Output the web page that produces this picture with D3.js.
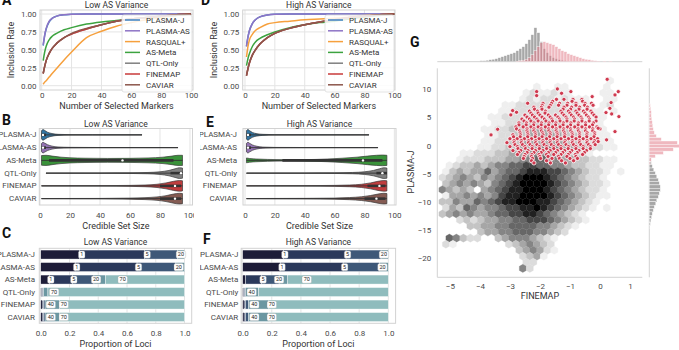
<!DOCTYPE html>
<html>
<head>
<meta charset="utf-8">
<script src="https://cdn.jsdelivr.net/npm/d3@7"></script>
<style>
  body { margin: 0; background: #fff; }
  svg { display: block; font-family: Roboto, "DejaVu Sans", sans-serif; }
</style>
</head>
<body>
<svg id="fig" width="679" height="350"></svg>
<script>
// ---------- data ----------
const methods = ["PLASMA-J", "PLASMA-AS", "RASQUAL+", "AS-Meta", "QTL-Only", "FINEMAP", "CAVIAR"];
const lineColors = ["#3d80c0", "#8e74c6", "#f6a03d", "#3ca33f", "#7f7f7f", "#c93a3a", "#8c564b"];
const markerCounts = [1, 2, 3, 5, 7, 10, 15, 20, 30, 40, 50, 60, 70, 80, 90, 100];
const markerTicks = [0, 20, 40, 60, 80, 100];
const rateTicks = [0, 0.25, 0.5, 0.75, 1];

// inclusion rate, one row per method (same order as methods)
const lowInclusion = [
  [0.56, 0.70, 0.79, 0.89, 0.94, 0.97, 0.99, 0.995, 1, 1, 1, 1, 1, 1, 1, 1],
  [0.57, 0.71, 0.80, 0.90, 0.94, 0.97, 0.99, 0.996, 1, 1, 1, 1, 1, 1, 1, 1],
  [0.02, 0.05, 0.07, 0.12, 0.17, 0.24, 0.36, 0.47, 0.67, 0.76, 0.83, 0.88, 0.92, 0.95, 0.98, 1],
  [0.35, 0.47, 0.55, 0.64, 0.69, 0.73, 0.78, 0.81, 0.86, 0.89, 0.91, 0.93, 0.95, 0.97, 0.98, 1],
  [0.17, 0.27, 0.35, 0.45, 0.52, 0.59, 0.67, 0.72, 0.79, 0.85, 0.90, 0.93, 0.95, 0.97, 0.99, 1],
  [0.17, 0.27, 0.35, 0.45, 0.52, 0.59, 0.67, 0.72, 0.79, 0.85, 0.90, 0.93, 0.95, 0.97, 0.99, 1],
  [0.17, 0.27, 0.35, 0.45, 0.52, 0.59, 0.67, 0.73, 0.80, 0.85, 0.90, 0.93, 0.95, 0.97, 0.99, 1]
];
const highInclusion = [
  [0.55, 0.68, 0.77, 0.87, 0.92, 0.96, 0.985, 0.995, 1, 1, 1, 1, 1, 1, 1, 1],
  [0.55, 0.68, 0.77, 0.87, 0.92, 0.96, 0.985, 0.995, 1, 1, 1, 1, 1, 1, 1, 1],
  [0.40, 0.55, 0.64, 0.72, 0.77, 0.81, 0.86, 0.88, 0.90, 0.92, 0.93, 0.94, 0.96, 0.98, 0.99, 1],
  [0.28, 0.38, 0.45, 0.55, 0.61, 0.66, 0.71, 0.75, 0.81, 0.85, 0.88, 0.90, 0.93, 0.96, 0.98, 1],
  [0.14, 0.24, 0.32, 0.43, 0.50, 0.58, 0.67, 0.73, 0.80, 0.85, 0.89, 0.92, 0.95, 0.97, 0.99, 1],
  [0.14, 0.24, 0.32, 0.43, 0.50, 0.58, 0.67, 0.73, 0.80, 0.85, 0.89, 0.92, 0.95, 0.97, 0.99, 1],
  [0.14, 0.24, 0.32, 0.43, 0.50, 0.58, 0.67, 0.73, 0.80, 0.85, 0.89, 0.92, 0.95, 0.97, 0.99, 1]
];

// violins / bars
const rowMethods = ["PLASMA-J", "PLASMA-AS", "AS-Meta", "QTL-Only", "FINEMAP", "CAVIAR"];
const violinColors = ["#3274a1", "#9372b2", "#3a923a", "#7f7f7f", "#c03d3e", "#845b53"];
const csTicks = [0, 20, 40, 60, 80, 100];

// [credible set size, relative half width]
const lowViolinDensity = [
  [[1, 0.75], [2, 1], [3, 0.85], [5, 0.5], [8, 0.25], [12, 0.1], [20, 0.04], [35, 0.02], [68, 0.01]],
  [[1, 0.75], [2, 1], [3, 0.85], [5, 0.55], [8, 0.28], [12, 0.12], [20, 0.05], [40, 0.02], [92, 0.01]],
  [[1, 0.9], [4, 0.95], [8, 0.8], [14, 0.6], [20, 0.48], [30, 0.4], [45, 0.36], [60, 0.38], [72, 0.45], [82, 0.6], [88, 0.8], [92, 0.95], [95, 0.95]],
  [[4, 0.02], [40, 0.03], [60, 0.06], [72, 0.12], [80, 0.25], [86, 0.5], [90, 0.8], [93, 1], [95, 0.95]],
  [[1, 0.02], [40, 0.04], [60, 0.09], [70, 0.16], [78, 0.3], [84, 0.55], [89, 0.85], [93, 1], [95, 0.95]],
  [[1, 0.02], [40, 0.04], [60, 0.1], [70, 0.18], [78, 0.32], [84, 0.55], [89, 0.85], [93, 1], [95, 0.95]]
];
// [whisker low, q1, median, q3, whisker high]
const lowViolinBox = [
  [1, 1, 2, 4, 68], [1, 1, 2, 4, 92], [1, 6, 55, 89, 95],
  [4, 87, 94, 95, 95], [1, 80, 90, 94, 95], [1, 80, 90, 94, 95]
];
const highViolinDensity = [
  [[1, 0.8], [2, 1], [3, 0.8], [5, 0.45], [8, 0.22], [12, 0.1], [20, 0.04], [40, 0.02], [83, 0.01]],
  [[1, 0.8], [2, 1], [3, 0.82], [5, 0.5], [8, 0.25], [12, 0.1], [20, 0.04], [40, 0.02], [89, 0.01]],
  [[1, 0.45], [3, 0.35], [8, 0.25], [15, 0.18], [25, 0.13], [40, 0.14], [55, 0.25], [65, 0.4], [75, 0.6], [82, 0.8], [88, 0.95], [92, 1], [95, 0.95]],
  [[1, 0.02], [40, 0.03], [60, 0.06], [72, 0.12], [80, 0.25], [86, 0.5], [90, 0.8], [93, 1], [95, 0.95]],
  [[1, 0.02], [40, 0.04], [60, 0.09], [70, 0.16], [78, 0.3], [84, 0.55], [89, 0.85], [93, 1], [95, 0.95]],
  [[1, 0.02], [40, 0.05], [60, 0.1], [70, 0.2], [78, 0.35], [84, 0.58], [89, 0.85], [93, 1], [95, 0.95]]
];
const highViolinBox = [
  [1, 1, 2, 4, 83], [1, 1, 2, 4, 89], [1, 25, 79, 92, 95],
  [1, 88, 92, 95, 95], [1, 82, 90, 94, 95], [1, 80, 88, 94, 95]
];

// stacked proportions: cumulative ends of the 5 colour classes
const barColors = ["#1d1c38", "#2b395b", "#3e5878", "#6b97a2", "#8fbcbd"];
const propTicks = [0, 0.2, 0.4, 0.6, 0.8, 1];
const lowBarEnds = [
  [0.27, 0.72, 0.95, 1, 1],
  [0.24, 0.67, 0.94, 1, 1],
  [0.06, 0.22, 0.37, 0.45, 1],
  [0.006, 0.012, 0.02, 0.05, 1],
  [0.01, 0.02, 0.03, 0.13, 1],
  [0.01, 0.02, 0.03, 0.13, 1]
];
const lowBarLabels = [
  [[0.285, "1"], [0.74, "5"], [0.975, "20"]],
  [[0.25, "1"], [0.68, "5"], [0.96, "20"]],
  [[0.07, "1"], [0.23, "5"], [0.385, "20"], [0.57, "70"]],
  [[0.093, "70"]],
  [[0.07, "40"], [0.16, "70"]],
  [[0.07, "40"], [0.16, "70"]]
];
const highBarEnds = [
  [0.28, 0.71, 0.95, 1, 1],
  [0.26, 0.69, 0.94, 1, 1],
  [0.02, 0.13, 0.25, 0.31, 1],
  [0.006, 0.012, 0.02, 0.11, 1],
  [0.01, 0.02, 0.04, 0.18, 1],
  [0.01, 0.02, 0.04, 0.18, 1]
];
const highBarLabels = [
  [[0.29, "1"], [0.72, "5"], [0.97, "20"]],
  [[0.27, "1"], [0.70, "5"], [0.96, "20"]],
  [[0.14, "5"], [0.25, "20"], [0.44, "70"]],
  [[0.062, "40"]],
  [[0.08, "40"], [0.2, "70"]],
  [[0.08, "40"], [0.2, "70"]]
];

// panel G: hexbin density (gray level per cell, '.' empty), rows top to bottom
const hexX0 = -5.25, hexDX = 0.233, hexY0 = 11.5, hexDY = 1.075;
const hexRows = [
  "........................1.",
  ".............1..11.....1..",
  "............1211211....11.",
  "...........1212212111..11.",
  ".........1122222221211.12.",
  "........112222222222111.1.",
  ".......11222232222221111..",
  ".......1122333333222111...",
  "......112233344433322111..",
  "......112233444443332211..",
  "......1122334444443322111.",
  ".....11223344455544332211.",
  "...1122233444554433221....",
  "..12223334455665544332211.",
  ".123343455667766554332211.",
  "134344645667888776543221.1",
  "234543545678999876543221..",
  "345454356789999876543221..",
  "54343.456788999876543221..",
  "144545457889999876543211..",
  "33544656788999887654321...",
  "2436545567788987654321.1..",
  "345454456677887654321",
  "..2323445566777654321",
  "....3344556666554321",
  ".....3445566655432",
  ".65322..345554321",
  "21.......2345432",
  "...........345421",
  "...........2341",
  "............22",
  "...........52"
];
// red points: [PLASMA-J value, FINEMAP values in that row]
const redCloudRows = [
  [8.2, [-1.45, -1.2, -0.9, -0.6]],
  [7.85, [-1.58, -0.93, -0.58]],
  [7.5, [-1.9, -1.62, -1.35, -1.08, -0.8, -0.5, -0.28]],
  [7.15, [-1.93, -1.66, -1.38, -1.1, -0.8, -0.51, -0.23]],
  [6.8, [-2.2, -1.95, -1.7, -1.2, -0.95, -0.68, -0.42]],
  [6.45, [-2.18, -1.93, -1.23, -0.98, -0.7, -0.43]],
  [6.1, [-2.35, -2.08, -1.82, -1.3, -1.05, -0.8, -0.55, -0.3]],
  [5.75, [-2.3, -2.06, -1.83, -1.26, -1.0, -0.76, -0.5, -0.26]],
  [5.4, [-2.5, -2.25, -2.0, -1.72, -1.48, -1.2, -0.95, -0.7, -0.45, -0.2]],
  [5.05, [-2.43, -2.18, -1.93, -1.66, -1.4, -1.13, -0.88, -0.63, -0.38, -0.13]],
  [4.7, [-2.6, -2.35, -2.1, -1.85, -1.6, -1.35, -1.1, -0.85, -0.6, -0.35]],
  [4.35, [-2.53, -2.3, -2.06, -1.8, -1.58, -1.33, -1.1, -0.86, -0.6, -0.36, -0.13]],
  [4.0, [-2.7, -2.45, -2.2, -1.95, -1.7, -1.47, -1.22, -0.97, -0.72, -0.48, -0.22]],
  [3.65, [-2.7, -2.46, -2.21, -1.96, -1.71, -1.48, -1.23, -0.98, -0.73, -0.48, -0.25]],
  [3.3, [-2.8, -2.56, -2.3, -2.06, -1.82, -1.58, -1.33, -1.08, -0.84, -0.6, -0.35, -0.1]],
  [2.95, [-2.78, -2.43, -2.2, -1.96, -1.71, -1.46, -1.21, -0.98, -0.73, -0.48, -0.24, 0.0]],
  [2.6, [-2.68, -2.43, -2.2, -1.95, -1.7, -1.46, -1.21, -0.97, -0.72, -0.48, -0.24]],
  [2.25, [-2.66, -2.41, -2.16, -1.91, -1.66, -1.43, -1.18, -0.93, -0.68, -0.43, -0.18]],
  [1.9, [-2.9, -2.65, -2.4, -2.15, -1.9, -1.66, -1.42, -1.17, -0.92, -0.68, -0.44, -0.18]],
  [1.55, [-2.88, -2.66, -2.41, -2.16, -1.93, -1.68, -1.43, -1.18, -0.93, -0.68, -0.44, -0.2]],
  [1.2, [-3.0, -2.76, -2.52, -2.28, -2.03, -1.78, -1.54, -1.3, -1.05, -0.8, -0.56, -0.3, -0.08]],
  [0.85, [-2.86, -2.62, -2.38, -2.14, -1.9, -1.66, -1.42, -1.16, -0.92, -0.68, -0.43, -0.18]],
  [0.5, [-3.1, -2.86, -2.62, -2.38, -2.14, -1.9, -1.66, -1.42, -1.17, -0.92, -0.68, -0.43, -0.2]],
  [0.15, [-2.83, -2.58, -2.33, -2.1, -1.86, -1.62, -1.38, -1.13, -0.88, -0.64, -0.38, -0.16]],
  [-0.2, [-3.0, -2.75, -2.5, -2.26, -2.02, -1.78, -1.54, -1.3, -1.05, -0.8, -0.56, -0.32]],
  [-0.55, [-2.73, -2.48, -2.26, -2.02, -1.78, -1.54, -1.3, -1.06, -0.8, -0.56, -0.32]],
  [-0.9, [-2.9, -2.64, -2.4, -2.15, -1.9, -1.66, -1.42, -1.18, -0.94, -0.7, -0.45]],
  [-1.25, [-2.7, -2.43, -2.2, -1.96, -1.72, -1.48, -1.24, -1.0, -0.76, -0.52]],
  [-1.6, [-2.75, -2.5, -2.27, -2.03, -1.78, -1.54, -1.3, -1.06, -0.82, -0.58]],
  [-1.95, [-2.53, -2.28, -2.0, -1.73, -1.38, -1.1, -0.8]],
  [-2.3, [-2.55, -2.25, -1.98, -1.6, -1.35, -1.0, -0.75]],
  [-2.7, [-2.28, -1.78, -1.28, -0.88]],
  [-3.1, [-2.2, -1.65, -1.15]]
];
const redOutliers = [
  [0.24, 11.76], [-1.42, 10.04], [-0.97, 9.57], [-2.11, 9.57], [-2.11, 8.86], [-1.28, 9.27],
  [-0.26, 8.68], [0.5, 8.98], [0.61, 9.57], [0.37, 7.62], [-2.41, 7.5], [-2.91, 6.2],
  [-2.78, 5.9], [-2.97, 5.43], [0.2, 5.84], [0.33, 6.6], [0.39, 5.6], [0.63, 5.13],
  [0.5, 2.47], [0.22, 1.0], [-0.06, 3.06], [-3.41, 2.88], [-3.63, 1.88], [-0.06, 0.7]
];
// marginal histograms: [bin centre, height]
const topGrayBins = [
  [-3.95, 1], [-3.85, 1], [-3.75, 1.5], [-3.65, 2], [-3.55, 2.5], [-3.45, 3], [-3.35, 4], [-3.25, 5],
  [-3.15, 6], [-3.05, 7], [-2.95, 8], [-2.85, 9], [-2.75, 11], [-2.65, 13], [-2.55, 15], [-2.45, 18],
  [-2.35, 22], [-2.25, 27], [-2.15, 34], [-2.05, 29], [-1.95, 20], [-1.85, 13], [-1.75, 9], [-1.65, 6],
  [-1.55, 4], [-1.45, 3], [-1.35, 2], [-1.25, 1.5], [-1.15, 1], [-1.05, 0.5]
];
const topPinkBins = [
  [-2.75, 0.5], [-2.65, 1], [-2.55, 1.5], [-2.45, 2.5], [-2.35, 4], [-2.25, 7], [-2.15, 11], [-2.05, 15],
  [-1.95, 19], [-1.85, 20], [-1.75, 19], [-1.65, 18], [-1.55, 17], [-1.45, 15], [-1.35, 13], [-1.25, 11],
  [-1.15, 10], [-1.05, 8], [-0.95, 7], [-0.85, 6], [-0.75, 5], [-0.65, 4], [-0.55, 3], [-0.45, 2.5],
  [-0.35, 2], [-0.25, 1.5], [-0.15, 1], [-0.05, 0.5], [0.15, 0.5], [0.35, 0.5]
];
const rightPinkBins = [
  [7.1, 1], [6.5, 1.5], [5.9, 2], [5.3, 2], [4.7, 2.5], [4.1, 3], [3.5, 3.5], [2.9, 4], [2.3, 5],
  [1.7, 7], [1.1, 12], [0.5, 28], [-0.1, 34], [-0.7, 24], [-1.3, 14], [-1.9, 6], [-2.5, 2], [-3.1, 1]
];
const rightGrayBins = [
  [-2.5, 1], [-3.1, 2], [-3.7, 3], [-4.3, 4.5], [-4.9, 6], [-5.5, 7.5], [-6.1, 9], [-6.7, 10],
  [-7.3, 11], [-7.9, 11], [-8.5, 10], [-9.1, 9], [-9.7, 7.5], [-10.3, 6.5], [-10.9, 5], [-11.5, 4],
  [-12.1, 3], [-12.7, 2.3], [-13.3, 1.6], [-13.9, 1], [-14.5, 0.6]
];
const gTicksX = [-5, -4, -3, -2, -1, 0, 1];
const gTicksY = [-20, -15, -10, -5, 0, 5, 10];

// ---------- drawing ----------
const svg = d3.select("#fig");
svg.append("rect").attr("width", 679).attr("height", 350).attr("fill", "#fff");
const gridColor = "#e4e4e4", frameColor = "#d2d2d2", tickColor = "#4a4a4a";
const minus = s => String(s).replace("-", "\u2212");

function letter(t, x, y) {
  svg.append("text").attr("x", x).attr("y", y).attr("font-size", 14)
    .attr("font-weight", "bold").attr("fill", "#111").text(t);
}
function styleAxis(sel, size) {
  sel.select(".domain").remove();
  sel.selectAll("text").attr("font-size", size || 8).attr("fill", tickColor)
    .attr("font-family", "Roboto, sans-serif");
}
function addText(g, t, x, y, size, opts) {
  const el = g.append("text").attr("x", x).attr("y", y).attr("font-size", size)
    .attr("fill", "#333").attr("text-anchor", "middle").text(t);
  if (opts && opts.rotate) el.attr("transform", `rotate(-90,${x},${y})`);
  return el;
}
function clipGroup(id, x0, x1) {
  svg.append("clipPath").attr("id", id).append("rect")
    .attr("x", x0).attr("y", 0).attr("width", x1 - x0).attr("height", 350);
  return svg.append("g").attr("clip-path", `url(#${id})`);
}

function inclusionPanel(g, p) {
  const x = d3.scaleLinear().domain(p.xdom).range([p.left, p.right]);
  const y = d3.scaleLinear().domain([-0.06, 1.056]).range([p.bottom, p.top]);
  g.selectAll(null).data(markerTicks).join("line")
    .attr("x1", d => x(d)).attr("x2", d => x(d)).attr("y1", p.top).attr("y2", p.bottom)
    .attr("stroke", gridColor);
  g.selectAll(null).data(rateTicks).join("line")
    .attr("x1", p.left).attr("x2", p.right).attr("y1", d => y(d)).attr("y2", d => y(d))
    .attr("stroke", gridColor);
  g.append("rect").attr("x", p.left).attr("y", p.top).attr("width", p.right - p.left)
    .attr("height", p.bottom - p.top).attr("fill", "none").attr("stroke", frameColor);

  const line = d3.line().x((d, i) => x(markerCounts[i])).y(d => y(d)).curve(d3.curveMonotoneX);
  g.selectAll(null).data(p.values).join("path")
    .attr("d", line).attr("fill", "none").attr("stroke-width", 1.5)
    .attr("stroke", (d, i) => lineColors[i]);

  g.append("g").attr("transform", `translate(0,${p.bottom})`)
    .call(d3.axisBottom(x).tickValues(markerTicks).tickSize(0).tickPadding(2.5))
    .call(styleAxis);
  g.append("g").attr("transform", `translate(${p.left},0)`)
    .call(d3.axisLeft(y).tickValues(rateTicks).tickFormat(d3.format(".2f")).tickSize(0).tickPadding(3.5))
    .call(styleAxis);

  addText(g, p.title, (p.left + p.right) / 2, 8, 8.5);
  addText(g, "Number of Selected Markers", (p.left + p.right) / 2, 109, 9);
  addText(g, "Inclusion Rate", p.ylabX, 50, 9, { rotate: true });

  // legend
  const lg = g.append("g");
  lg.append("rect").attr("x", p.legendX).attr("y", 15).attr("width", p.right - 1 - p.legendX)
    .attr("height", 77).attr("rx", 2).attr("fill", "#fff").attr("fill-opacity", 0.85)
    .attr("stroke", "#dcdcdc").attr("stroke-width", 0.8);
  const row = lg.selectAll(null).data(methods).join("g")
    .attr("transform", (d, i) => `translate(${p.legendX},${20 + i * 10.8})`);
  row.append("line").attr("x1", 3).attr("x2", 18).attr("stroke-width", 1.5)
    .attr("stroke", (d, i) => lineColors[i]);
  row.append("text").attr("x", 24).attr("y", 3).attr("font-size", 8).attr("fill", "#333").text(d => d);
}

function violinPanel(g, p) {
  const x = d3.scaleLinear().domain(p.xdom).range([p.left, p.right]);
  const y = d3.scaleBand().domain(rowMethods).range([p.top, p.bottom]);
  const half = y.bandwidth() * 0.42;
  g.selectAll(null).data(csTicks).join("line")
    .attr("x1", d => x(d)).attr("x2", d => x(d)).attr("y1", p.top).attr("y2", p.bottom)
    .attr("stroke", gridColor);
  g.append("rect").attr("x", p.left).attr("y", p.top).attr("width", p.right - p.left)
    .attr("height", p.bottom - p.top).attr("fill", "none").attr("stroke", frameColor);

  rowMethods.forEach((m, i) => {
    const c = y(m) + y.bandwidth() / 2;
    const area = d3.area().x(d => x(d[0]))
      .y0(d => c - d[1] * half).y1(d => c + d[1] * half).curve(d3.curveMonotoneX);
    g.append("path").attr("d", area(p.density[i])).attr("fill", violinColors[i])
      .attr("stroke", "#3a3a3a").attr("stroke-width", 0.7);
    const b = p.box[i];
    g.append("line").attr("x1", x(b[0])).attr("x2", x(b[4])).attr("y1", c).attr("y2", c)
      .attr("stroke", "#333").attr("stroke-width", 0.9);
    g.append("line").attr("x1", x(b[1])).attr("x2", x(b[3])).attr("y1", c).attr("y2", c)
      .attr("stroke", "#333").attr("stroke-width", 2.6);
    g.append("circle").attr("cx", x(b[2])).attr("cy", c).attr("r", 1.2).attr("fill", "#fff");
  });

  g.append("g").attr("transform", `translate(0,${p.bottom})`)
    .call(d3.axisBottom(x).tickValues(csTicks).tickSize(0).tickPadding(7))
    .call(styleAxis);
  g.selectAll(null).data(rowMethods).join("text")
    .attr("x", p.labelX).attr("y", d => y(d) + y.bandwidth() / 2).attr("dy", "0.32em")
    .attr("text-anchor", "end").attr("font-size", 8).attr("fill", tickColor).text(d => d);

  addText(g, p.title, (p.left + p.right) / 2, 127, 8.5);
  addText(g, "Credible Set Size", (p.left + p.right) / 2, 228.5, 9);
}

function barPanel(g, p) {
  const x = d3.scaleLinear().domain([-0.01, 1.05]).range([p.left, p.right]);
  const y = d3.scaleBand().domain(rowMethods).range([p.top, p.bottom]).paddingInner(0.28).paddingOuter(0.14);
  g.selectAll(null).data(propTicks).join("line")
    .attr("x1", d => x(d)).attr("x2", d => x(d)).attr("y1", p.top).attr("y2", p.bottom)
    .attr("stroke", gridColor);
  g.append("rect").attr("x", p.left).attr("y", p.top).attr("width", p.right - p.left)
    .attr("height", p.bottom - p.top).attr("fill", "none").attr("stroke", frameColor);

  rowMethods.forEach((m, i) => {
    const ends = p.ends[i];
    const segs = ends.map((e, k) => [k === 0 ? 0 : ends[k - 1], e, k]);
    g.selectAll(null).data(segs.filter(s => s[1] > s[0])).join("rect")
      .attr("x", s => x(s[0])).attr("width", s => x(s[1]) - x(s[0]))
      .attr("y", y(m)).attr("height", y.bandwidth())
      .attr("fill", s => barColors[s[2]]).attr("stroke", "#fff").attr("stroke-width", 0.4);
    const c = y(m) + y.bandwidth() / 2;
    p.labels[i].forEach(([pos, t]) => {
      const w = 3.5 + t.length * 3;
      g.append("rect").attr("x", x(pos) - w / 2).attr("y", c - 3.6).attr("width", w).attr("height", 7.2)
        .attr("rx", 1.5).attr("fill", "#fff").attr("stroke", "#9a9a9a").attr("stroke-width", 0.3);
      g.append("text").attr("x", x(pos)).attr("y", c).attr("dy", "0.35em").attr("text-anchor", "middle")
        .attr("font-size", 5.5).attr("fill", "#222").text(t);
    });
  });

  g.append("g").attr("transform", `translate(0,${p.bottom})`)
    .call(d3.axisBottom(x).tickValues(propTicks).tickFormat(d3.format(".1f")).tickSize(0).tickPadding(7.5))
    .call(styleAxis);
  g.selectAll(null).data(rowMethods).join("text")
    .attr("x", p.labelX).attr("y", d => y(d) + y.bandwidth() / 2).attr("dy", "0.32em")
    .attr("text-anchor", "end").attr("font-size", 8).attr("fill", tickColor).text(d => d);

  addText(g, p.title, (p.left + p.right) / 2, 244.5, 8.5);
  addText(g, "Proportion of Loci", (p.left + p.right) / 2, 346.5, 9);
}

// left column
const colA = clipGroup("clipA", 0, 200);
inclusionPanel(colA, { left: 40, right: 193, top: 10, bottom: 90, xdom: [-1.14, 101.3],
  values: lowInclusion, title: "Low AS Variance", ylabX: 14, legendX: 122 });
const colB = clipGroup("clipB", 0, 194);
violinPanel(colB, { left: 39.3, right: 192.5, top: 128.5, bottom: 205, xdom: [-0.47, 101.67],
  density: lowViolinDensity, box: lowViolinBox, title: "Low AS Variance", labelX: 36.5 });
barPanel(colA, { left: 39.3, right: 191.7, top: 248.3, bottom: 323.3,
  ends: lowBarEnds, labels: lowBarLabels, title: "Low AS Variance", labelX: 35 });

// middle column
const colD = clipGroup("clipD", 200, 410);
inclusionPanel(colD, { left: 242.7, right: 395, top: 10, bottom: 90, xdom: [-1.54, 100.47],
  values: highInclusion, title: "High AS Variance", ylabX: 216.7, legendX: 325 });
violinPanel(colD, { left: 243, right: 396, top: 128.5, bottom: 205, xdom: [-1.34, 101.1],
  density: highViolinDensity, box: highViolinBox, title: "High AS Variance", labelX: 237 });
barPanel(colD, { left: 241.2, right: 395.6, top: 248.3, bottom: 323.3,
  ends: highBarEnds, labels: highBarLabels, title: "High AS Variance", labelX: 238.3 });

letter("A", 2, 5); letter("D", 201, 5);
letter("B", 2, 125); letter("E", 206, 127);
letter("C", 2, 238); letter("F", 203, 244);
letter("G", 410, 47);

// panel G: joint plot
const gG = svg.append("g");
const xG = d3.scaleLinear().domain([-5.42, 1.41]).range([437.3, 642.3]);
const yG = d3.scaleLinear().domain([-23.41, 13.71]).range([277.3, 68.3]);
const hexR = (xG(hexDX) - xG(0)) / Math.sqrt(3);
const hexPath = d3.range(6).map(k => {
  const a = Math.PI / 3 * k + Math.PI / 6;
  return [hexR * Math.cos(a), hexR * Math.sin(a)];
});
const hexCells = [];
hexRows.forEach((row, j) => {
  row.split("").forEach((ch, i) => {
    if (ch === ".") return;
    hexCells.push({ fx: hexX0 + i * hexDX + (j % 2 ? hexDX / 2 : 0), py: hexY0 - j * hexDY, level: +ch });
  });
});
const grayOf = k => d3.interpolateGreys(0.12 + (k - 1) * 0.11);
gG.selectAll(null).data(hexCells).join("path")
  .attr("transform", d => `translate(${xG(d.fx)},${yG(d.py)})`)
  .attr("d", "M" + hexPath.join("L") + "Z")
  .attr("fill", d => grayOf(d.level)).attr("stroke", d => grayOf(d.level)).attr("stroke-width", 0.3);

const redPoints = redCloudRows.flatMap(([py, xs]) => xs.map(fx => [fx, py])).concat(redOutliers);
gG.selectAll(null).data(redPoints).join("circle")
  .attr("cx", d => xG(d[0])).attr("cy", d => yG(d[1])).attr("r", 2.1)
  .attr("fill", "#cf3a4f").attr("stroke", "#fff").attr("stroke-width", 0.8);

// spines
gG.append("line").attr("x1", 437.3).attr("x2", 437.3).attr("y1", 68.3).attr("y2", 277.3).attr("stroke", frameColor);
gG.append("line").attr("x1", 437.3).attr("x2", 642.3).attr("y1", 277.3).attr("y2", 277.3).attr("stroke", frameColor);
gG.append("g").attr("transform", "translate(0,277.3)")
  .call(d3.axisBottom(xG).tickValues(gTicksX).tickFormat(minus).tickSize(0).tickPadding(6))
  .call(styleAxis);
gG.append("g").attr("transform", "translate(437.3,0)")
  .call(d3.axisLeft(yG).tickValues(gTicksY).tickFormat(minus).tickSize(0).tickPadding(6))
  .call(styleAxis);
addText(gG, "FINEMAP", xG(-2), 299, 9);
addText(gG, "PLASMA-J", 414, 172, 9, { rotate: true });

// top marginal
const hTop = d3.scaleLinear().domain([0, 34]).range([61.7, 27.7]);
gG.append("line").attr("x1", 437.3).attr("x2", 642.3).attr("y1", 61.7).attr("y2", 61.7).attr("stroke", frameColor);
gG.selectAll(null).data(topGrayBins).join("rect")
  .attr("x", d => xG(d[0] - 0.05)).attr("width", xG(0.1) - xG(0))
  .attr("y", d => hTop(d[1])).attr("height", d => hTop(0) - hTop(d[1]))
  .attr("fill", "#8a8a8a").attr("fill-opacity", 0.75).attr("stroke", "#fff").attr("stroke-width", 0.4);
gG.selectAll(null).data(topPinkBins).join("rect")
  .attr("x", d => xG(d[0] - 0.05)).attr("width", xG(0.1) - xG(0))
  .attr("y", d => hTop(d[1])).attr("height", d => hTop(0) - hTop(d[1]))
  .attr("fill", "#e27d8a").attr("fill-opacity", 0.55).attr("stroke", "#fff").attr("stroke-width", 0.4);

// right marginal
const hRight = d3.scaleLinear().domain([0, 34]).range([649.3, 683.3]);
gG.append("line").attr("x1", 649.3).attr("x2", 649.3).attr("y1", 68.3).attr("y2", 277.3).attr("stroke", frameColor);
gG.selectAll(null).data(rightGrayBins).join("rect")
  .attr("x", 649.3).attr("width", d => hRight(d[1]) - hRight(0))
  .attr("y", d => yG(d[0] + 0.3)).attr("height", yG(0) - yG(0.6))
  .attr("fill", "#8a8a8a").attr("fill-opacity", 0.75).attr("stroke", "#fff").attr("stroke-width", 0.4);
gG.selectAll(null).data(rightPinkBins).join("rect")
  .attr("x", 649.3).attr("width", d => hRight(d[1]) - hRight(0))
  .attr("y", d => yG(d[0] + 0.3)).attr("height", yG(0) - yG(0.6))
  .attr("fill", "#e27d8a").attr("fill-opacity", 0.55).attr("stroke", "#fff").attr("stroke-width", 0.4);
</script>
</body>
</html>
